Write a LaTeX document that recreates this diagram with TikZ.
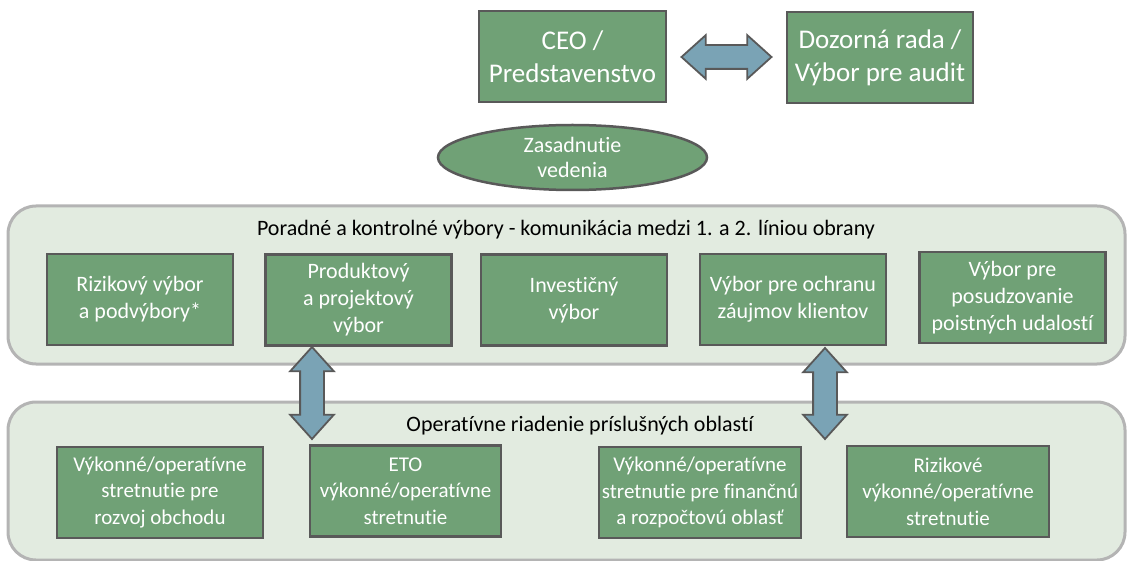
\documentclass[tikz,border=0pt]{standalone}
\usepackage{fontspec}
\setmainfont{Carlito}[Ligatures={NoCommon,NoContextual}]
\usetikzlibrary{shapes.geometric,shapes.arrows,calc}

\definecolor{boxgreen}{HTML}{70A176}
\definecolor{edgegray}{HTML}{595959}
\definecolor{arrowblue}{HTML}{7AA3B5}
\definecolor{panelfill}{HTML}{E2EBE0}
\definecolor{panelgray}{HTML}{B4B4B4}

\begin{document}
\begin{tikzpicture}[x=1pt,y=-1pt,
    box/.style={draw=edgegray,fill=boxgreen,line width=2.5pt,text=white,align=center,
        minimum width=186pt,minimum height=91pt,inner sep=2pt,font=\fontsize{22}{27}\selectfont},
    lowbox/.style={box,font=\fontsize{21}{26.5}\selectfont},
    panel/.style={draw=panelgray,fill=panelfill,line width=3pt,rounded corners=28pt,
        minimum width=1117pt,minimum height=158pt},
    dblarrow/.style={double arrow,draw=edgegray,fill=arrowblue,line width=1.8pt,
        minimum width=42pt,double arrow head extend=10pt,double arrow tip angle=84,
        inner xsep=0pt,inner ysep=11pt},
    paneltitle/.style={font=\fontsize{22}{26}\selectfont}
]
\useasboundingbox (0,0) rectangle (1130,561);

% top level
\node[box,minimum width=187pt,font=\fontsize{27}{33}\selectfont] (ceo) at (572.5,56.5) {CEO /\\Predstavenstvo};
\node[box,minimum width=186pt,font=\fontsize{27}{33}\selectfont] (board) at (880,57.5) {Dozorná rada /\\Výbor pre audit};
\node[dblarrow,minimum height=90pt] (ceoboard) at ($(ceo.east)!0.5!(board.west)$) {};

\node[ellipse,draw=edgegray,fill=boxgreen,line width=2.5pt,text=white,align=center,
    minimum width=269pt,minimum height=65pt,inner sep=0pt,font=\fontsize{22}{25}\selectfont]
    (meeting) at (572.5,157.5) {Zasadnutie\\vedenia};

% advisory committees
\node[panel] (advisory) at (566.5,285) {};
\node[paneltitle] (advtitle) at (566,230) {Poradné a kontrolné výbory - komunikácia medzi 1. a 2. líniou obrany};

\node[box] (riskc) at (140,299.5) {Rizikový výbor\\a podvýbory*};
\node[box] (prodc) at (358.5,300) {Produktový\\a projektový\\výbor};
\node[box] (investc) at (574,300) {Investičný\\výbor};
\node[box] (clientc) at (793,299.5) {Výbor pre ochranu\\záujmov klientov};
\node[box] (claimc) at (1012.5,297.5) {Výbor pre\\posudzovanie\\poistných udalostí};

% operative meetings
\node[panel] (operative) at (566.5,481) {};
\node[paneltitle] (optitle) at (580,426) {Operatívne riadenie príslušných oblastí};

\node[lowbox,minimum width=206pt] (bizm) at (160,492.5) {Výkonné/operatívne\\stretnutie pre\\rozvoj obchodu};
\node[lowbox,minimum width=191pt] (etom) at (405.5,491) {ETO\\výkonné/operatívne\\stretnutie};
\node[lowbox,minimum width=202pt] (finm) at (700,492.5) {Výkonné/operatívne\\stretnutie pre finančnú\\a rozpočtovú oblasť};
\node[lowbox,minimum width=202pt] (riskm) at (948,491.5) {Rizikové\\výkonné/operatívne\\stretnutie};

\node[dblarrow,rotate=90,minimum height=92pt] (prodop) at (312,393) {};
\node[dblarrow,rotate=90,minimum height=91pt] (clientop) at (825,393.5) {};

\end{tikzpicture}
\end{document}
